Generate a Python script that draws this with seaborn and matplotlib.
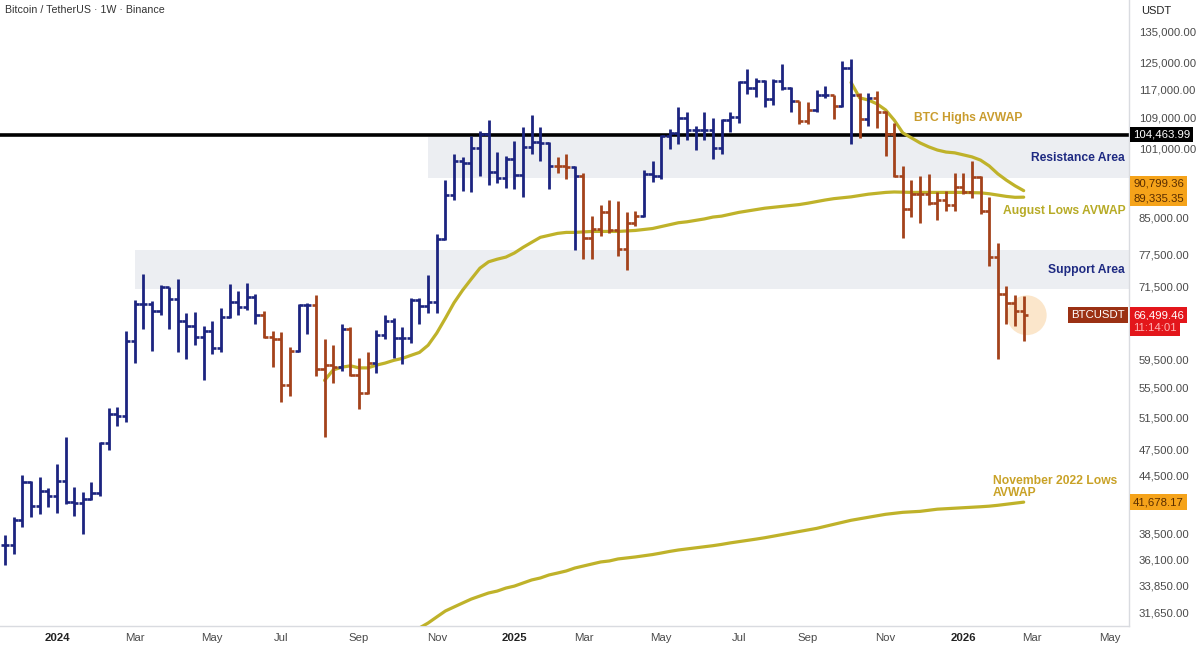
import matplotlib
matplotlib.use("Agg")
import matplotlib.pyplot as plt
import numpy as np
import pandas as pd
import seaborn as sns
from matplotlib.ticker import NullFormatter, NullLocator

# weekly BTC/USDT bars, prices in thousands of USDT (first week 2023-11-20)
first_week = "2023-11-20"
bar_open = [37.4, 37.4, 39.9, 43.8, 41.3, 42.9, 42.3, 43.9, 41.7, 41.6, 42.0, 42.6, 48.3, 52.0, 51.7,
            62.4, 68.4, 68.4, 67.2, 71.3, 69.3, 65.5, 64.8, 63.0, 63.9, 61.3, 66.2, 68.8, 67.8, 69.6,
            66.6, 63.0, 62.7, 55.9, 60.8, 68.2, 68.25, 58.2, 58.7, 58.4, 64.2, 57.3, 54.8, 59.0, 63.3,
            65.6, 62.9, 62.85, 69.0, 68.0, 68.7, 80.4, 89.85, 97.9, 97.4, 101.1, 104.5, 95.2, 93.7, 98.3,
            94.5, 101.3, 102.6, 102.4, 96.5, 96.6, 96.3, 94.3, 80.7, 82.6, 86.1, 82.3, 78.4, 83.7, 85.2,
            94.6, 94.3, 104.2, 105.0, 109.0, 105.6, 105.7, 105.6, 100.9, 108.4, 109.2, 119.1, 117.3, 119.4,
            114.2, 119.3, 117.4, 113.5, 108.2, 111.1, 115.3, 115.2, 112.2, 123.5, 115.2, 108.6, 114.5,
            110.5, 104.7, 94.2, 86.8, 90.0, 90.0, 88.0, 88.6, 87.7, 91.7, 90.6, 93.9, 86.4, 76.9, 70.1,
            68.5, 67.2]
bar_high = [38.4, 40.2, 44.6, 43.9, 44.4, 43.2, 45.9, 49.0, 43.3, 42.8, 43.8, 48.4, 52.8, 52.9, 64.0,
            69.0, 73.8, 68.9, 71.8, 71.4, 72.8, 66.9, 67.0, 64.7, 65.5, 67.7, 71.9, 70.6, 72.0, 70.2,
            67.2, 64.0, 63.8, 61.4, 68.4, 68.5, 70.0, 62.7, 61.8, 65.0, 64.5, 59.8, 60.6, 64.1, 66.5,
            66.0, 64.5, 69.4, 69.5, 73.6, 81.5, 93.3, 99.6, 98.7, 104.1, 105.3, 108.35, 99.9, 98.9, 102.7,
            106.4, 109.6, 106.5, 102.5, 98.8, 99.5, 96.5, 95.0, 85.3, 87.5, 88.8, 88.5, 86.1, 86.4, 95.7,
            97.9, 104.3, 105.8, 112.0, 110.4, 106.8, 110.5, 108.9, 108.5, 110.5, 119.5, 123.2, 120.2, 119.8,
            120.0, 124.5, 117.6, 113.6, 113.4, 116.7, 117.9, 115.4, 125.7, 126.2, 116.0, 115.9, 116.4,
            110.8, 107.5, 96.6, 93.2, 94.1, 94.6, 90.6, 90.8, 94.9, 94.9, 97.9, 94.1, 89.4, 79.6, 71.6,
            70.0, 69.8]
bar_low = [35.6, 36.6, 39.2, 40.2, 40.5, 41.2, 40.6, 41.5, 40.3, 38.5, 41.9, 42.3, 47.5, 50.4, 50.9,
           59.0, 64.3, 60.8, 66.6, 64.3, 60.7, 59.6, 61.8, 56.6, 60.3, 60.7, 66.0, 66.6, 67.4, 65.1,
           62.8, 58.4, 53.5, 54.3, 60.6, 63.4, 57.1, 49.0, 56.1, 57.8, 57.2, 52.55, 54.6, 57.5, 62.7,
           59.8, 58.9, 62.0, 65.1, 66.8, 66.8, 80.2, 88.8, 90.8, 90.5, 94.2, 92.1, 92.5, 91.5, 91.2,
           89.3, 99.5, 97.8, 91.2, 94.9, 93.4, 78.3, 76.6, 76.6, 81.1, 81.6, 77.1, 74.5, 83.1, 85.1,
           92.8, 93.4, 100.7, 102.0, 103.1, 100.4, 103.0, 98.2, 99.6, 105.1, 107.5, 115.7, 114.7, 112.0,
           112.6, 116.8, 110.6, 107.3, 107.3, 110.6, 114.4, 108.6, 111.8, 102.0, 103.5, 106.7, 106.3,
           98.9, 93.9, 80.6, 85.0, 83.8, 87.5, 84.3, 86.2, 86.4, 90.0, 89.2, 85.6, 75.3, 59.6, 65.0,
           64.7, 62.3]
bar_close = [37.4, 39.9, 43.8, 41.3, 42.9, 42.3, 43.9, 41.7, 41.6, 42.0, 42.6, 48.3, 52.0, 51.7, 62.4,
             68.4, 68.4, 67.2, 71.3, 69.3, 65.5, 64.8, 63.0, 63.9, 61.3, 66.2, 68.8, 67.8, 69.6, 66.6,
             63.0, 62.7, 55.9, 60.8, 68.2, 68.25, 58.2, 58.7, 58.4, 64.2, 57.3, 54.8, 59.0, 63.3, 65.6,
             62.9, 62.85, 69.0, 68.0, 68.7, 80.4, 89.85, 97.9, 97.4, 101.1, 104.5, 95.2, 93.7, 98.3, 94.5,
             101.3, 102.6, 102.4, 96.5, 96.6, 96.3, 94.3, 80.7, 82.6, 86.1, 82.3, 78.4, 83.7, 85.2, 94.6,
             94.3, 104.2, 105.0, 109.0, 105.6, 105.7, 105.6, 100.9, 108.4, 109.2, 119.1, 117.3, 119.4, 114.2,
             119.3, 117.4, 113.5, 108.2, 111.1, 115.3, 115.2, 112.2, 123.5, 115.2, 108.6, 114.5, 110.5,
             104.7, 94.2, 86.8, 90.0, 90.0, 88.0, 88.6, 87.7, 91.7, 90.6, 93.9, 86.4, 76.9, 70.1, 68.5,
             67.2, 66.49946]
# bar colour runs in week order: b = navy bar, r = brown bar
tone_runs = [("b", 30), ("r", 4), ("b", 2), ("r", 3), ("b", 1), ("r", 3), ("b", 21), ("r", 2),
             ("b", 1), ("r", 7), ("b", 18), ("r", 2), ("b", 2), ("r", 1), ("b", 2), ("r", 1),
             ("b", 1), ("r", 18)]

# anchored VWAP lines (weekly values, thousands of USDT)
aug_start = "2024-08-05"
aug_avwap = [56.5, 58.0, 58.4, 58.6, 58.3, 58.3, 58.7, 59.0, 59.4, 59.7, 60.15, 60.6, 61.7, 63.6,
             66.0, 68.6, 70.8, 72.8, 74.8, 76.0, 76.5, 76.9, 77.7, 78.8, 79.8, 80.8, 81.2, 81.6, 81.8,
             81.8, 81.9, 82.0, 82.0, 82.0, 82.0, 82.1, 82.2, 82.4, 82.6, 83.0, 83.4, 83.8, 84.0, 84.3,
             84.6, 85.0, 85.2, 85.6, 86.0, 86.3, 86.6, 86.9, 87.1, 87.3, 87.5, 87.7, 88.0, 88.35, 88.7,
             89.0, 89.2, 89.4, 89.7, 90.0, 90.2, 90.4, 90.5, 90.45, 90.4, 90.4, 90.4, 90.4, 90.4, 90.4,
             90.4, 90.35, 90.3, 90.1, 89.8, 89.5, 89.3, 89.33535]
highs_start = "2025-10-06"
highs_avwap = [119.0, 114.5, 113.9, 112.8, 111.1, 108.3, 104.9, 103.6, 102.3, 101.3, 100.5, 100.0,
               99.8, 99.3, 98.8, 98.0, 96.6, 94.7, 93.2, 91.9, 90.79936]
nov_start = "2024-10-21"
nov_avwap = [30.43, 30.81, 31.28, 31.75, 32.07, 32.39, 32.71, 32.96, 33.21, 33.37, 33.62, 33.79,
             34.05, 34.31, 34.48, 34.74, 34.91, 35.09, 35.35, 35.53, 35.71, 35.89, 35.98, 36.16, 36.25,
             36.34, 36.45, 36.56, 36.70, 36.85, 36.98, 37.08, 37.18, 37.28, 37.38, 37.50, 37.64, 37.76,
             37.88, 38.00, 38.13, 38.28, 38.43, 38.58, 38.73, 38.88, 39.03, 39.23, 39.43, 39.63, 39.83,
             39.98, 40.13, 40.28, 40.43, 40.53, 40.63, 40.68, 40.73, 40.84, 40.95, 41.00, 41.05, 41.10,
             41.15, 41.20, 41.26, 41.35, 41.46, 41.57, 41.67817]

resistance = (93.7, 103.8)
resistance_from = "2024-10-28"
support = (71.0, 78.3)
support_from = "2024-03-04"
key_level = 104.46399

price_ticks = [31650, 33850, 36100, 38500, 44500, 47500, 51500, 55500, 59500,
               71500, 77500, 85000, 101000, 109000, 117000, 125000, 135000]
date_ticks = ["2024-01-01", "2024-03-04", "2024-05-06", "2024-07-01", "2024-09-02", "2024-11-04",
              "2025-01-06", "2025-03-03", "2025-05-05", "2025-07-07", "2025-09-01", "2025-11-03",
              "2026-01-05", "2026-03-02", "2026-05-04"]
date_labels = ["2024", "Mar", "May", "Jul", "Sep", "Nov", "2025", "Mar", "May", "Jul", "Sep", "Nov",
               "2026", "Mar", "May"]

sns.set_theme(style="white")
plt.rcParams["font.family"] = ["Liberation Sans", "DejaVu Sans"]

K = 1000.0
bar_tone = [t for t, n in tone_runs for _ in range(n)]
weeks = pd.date_range(first_week, periods=len(bar_open), freq="7D")
ohlc = pd.DataFrame({"week": weeks, "open": np.array(bar_open) * K, "high": np.array(bar_high) * K,
                     "low": np.array(bar_low) * K, "close": np.array(bar_close) * K, "tone": bar_tone})

fig = plt.figure(figsize=(12, 6.49), dpi=100)
ax = fig.add_axes([0, 23 / 649, 1129 / 1200, 626 / 649])
ax.set_yscale("log")

x_left = pd.Timestamp("2024-01-01") - pd.Timedelta(days=46.2)
x_right = pd.Timestamp("2024-01-01") + pd.Timedelta(days=869.4)

# zones
grey = "#eceef2"
ax.fill_between([pd.Timestamp(resistance_from), x_right], resistance[0] * K, resistance[1] * K,
                color=grey, lw=0, zorder=0)
ax.fill_between([pd.Timestamp(support_from), x_right], support[0] * K, support[1] * K,
                color=grey, lw=0, zorder=0)
ax.axhline(key_level * K, color="black", lw=2.6, zorder=2)

# highlight circle around last bar
ax.scatter([weeks[-1] + pd.Timedelta(days=2.5)], [bar_close[-1] * K], s=820, color="#fbe2c2",
           alpha=0.85, edgecolor="none", zorder=1)

# AVWAP lines
avwap_col = "#bfb22a"
for start, vals in [(aug_start, aug_avwap), (highs_start, highs_avwap), (nov_start, nov_avwap)]:
    d = pd.DataFrame({"week": pd.date_range(start, periods=len(vals), freq="7D"),
                      "price": np.array(vals) * K})
    sns.lineplot(data=d, x="week", y="price", ax=ax, color=avwap_col, lw=2.3, legend=False, zorder=3)

# OHLC bars
tick = pd.Timedelta(days=3.3)
colors = {"b": "#1c2480", "r": "#a3421b"}
for tone, grp in ohlc.groupby("tone"):
    c = colors[tone]
    ax.vlines(grp["week"], grp["low"], grp["high"], color=c, lw=2.0, zorder=4)
    ax.hlines(grp["open"], grp["week"] - tick, grp["week"], color=c, lw=1.9, zorder=4)
    ax.hlines(grp["close"], grp["week"], grp["week"] + tick, color=c, lw=1.9, zorder=4)

ax.set_xlim(x_left, x_right)
ax.set_ylim(30580, 146240)
ax.set_xlabel("")
ax.set_ylabel("")

# axes styling
for side in ["top", "left"]:
    ax.spines[side].set_visible(False)
for side in ["bottom", "right"]:
    ax.spines[side].set_color("#d9dbe0")
    ax.spines[side].set_linewidth(1.0)
ax.yaxis.tick_right()
ax.set_yticks(price_ticks)
ax.yaxis.set_minor_locator(NullLocator())
ax.yaxis.set_minor_formatter(NullFormatter())
ax.set_yticklabels([f"{v:,.2f}" for v in price_ticks])
ax.tick_params(axis="y", length=0, pad=7, labelsize=8.2, labelcolor="#4a4a4a")
ax.set_xticks([pd.Timestamp(d) for d in date_ticks])
ax.set_xticklabels(date_labels)
ax.tick_params(axis="x", length=0, pad=5, labelsize=8.2, labelcolor="#4a4a4a")
for lab in ax.get_xticklabels():
    if lab.get_text().isdigit():
        lab.set_fontweight("bold")
        lab.set_color("#222222")

# annotations
navy = "#1e2a82"
right_edge = pd.Timestamp("2026-05-16")
ax.text(pd.Timestamp("2025-11-26"), 108.9 * K, "BTC Highs AVWAP", color="#c99c2e",
        fontsize=8.7, fontweight="bold", va="center", ha="left", zorder=6)
ax.text(right_edge, 98.6 * K, "Resistance Area", color=navy,
        fontsize=8.7, fontweight="bold", va="center", ha="right", zorder=6)
ax.text(pd.Timestamp("2026-02-06"), 86.2 * K, "August Lows AVWAP", color="#b7ab26",
        fontsize=8.7, fontweight="bold", va="center", ha="left", zorder=6)
ax.text(right_edge, 74.5 * K, "Support Area", color=navy,
        fontsize=8.7, fontweight="bold", va="center", ha="right", zorder=6)
ax.text(pd.Timestamp("2026-01-29"), 43.3 * K, "November 2022 Lows\nAVWAP", color="#c9a227",
        fontsize=8.7, fontweight="bold", va="center", ha="left", linespacing=0.95, zorder=6)

ytrans = ax.get_yaxis_transform()


def badge(value, text, fc, tc, dy=0, ha="left", dx=3):
    ax.annotate(text, xy=(1.0, value), xycoords=ytrans, xytext=(dx, dy), textcoords="offset points",
                ha=ha, va="center", fontsize=8.2, color=tc, annotation_clip=False, zorder=7,
                bbox=dict(boxstyle="square,pad=0.25", fc=fc, ec="none"))


badge(key_level * K, "104,463.99", "black", "white")
badge(highs_avwap[-1] * K, "90,799.36", "#f5a31a", "#5a2d00", dy=5)
badge(aug_avwap[-1] * K, "89,335.35", "#f5a31a", "#5a2d00", dy=-1)
badge(nov_avwap[-1] * K, "41,678.17", "#f5a31a", "#5a2d00")
badge(bar_close[-1] * K, "66,499.46", "#e3161b", "white")
badge(bar_close[-1] * K, "11:14:01", "#e3161b", "#ffb4b4", dy=-9)
badge(bar_close[-1] * K, "BTCUSDT", "#9b3114", "white", ha="right", dx=-3)

fig.text(5 / 1200, 1 - 10 / 649, "Bitcoin / TetherUS \u00b7 1W \u00b7 Binance", fontsize=7.7,
         color="#333333", va="center", ha="left")
fig.text(1141 / 1200, 1 - 11 / 649, "USDT", fontsize=8, color="#222222", va="center", ha="left")

fig.savefig("out.png", dpi=100)
plt.close(fig)
